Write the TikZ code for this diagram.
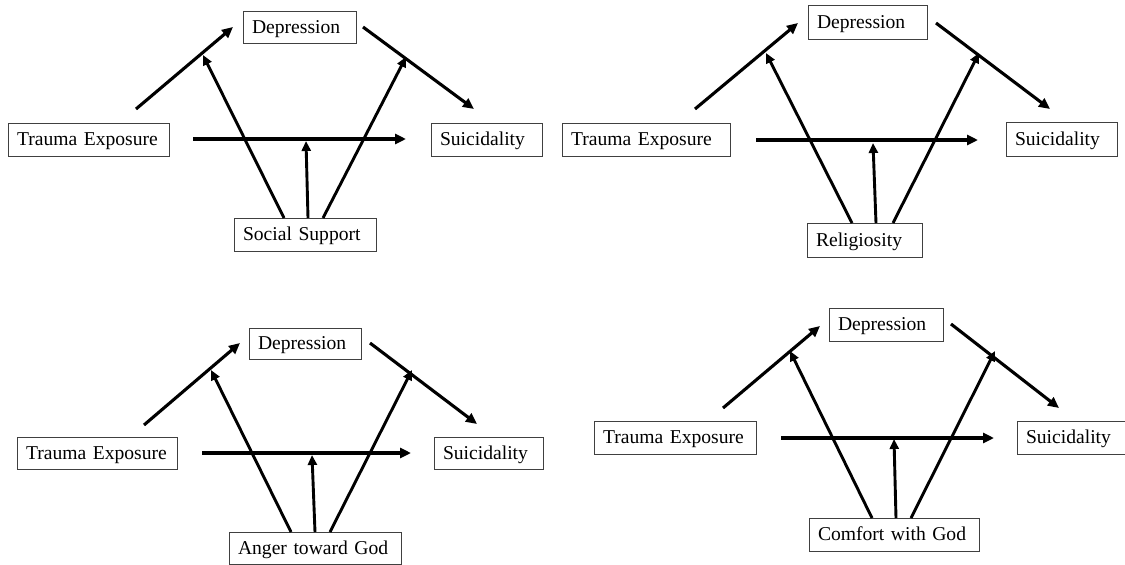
\documentclass[tikz,border=0pt]{standalone}
\usepackage{fontspec}
\setmainfont{Liberation Serif}
\usetikzlibrary{arrows.meta}
\begin{document}
\begin{tikzpicture}[x=1pt,y=-1pt,
  varbox/.style={draw=black!75, line width=0.9pt, rectangle, inner xsep=9pt, inner ysep=6.5pt,
    text height=16pt, text depth=4pt,
    align=left, anchor=center, font=\fontsize{19.6}{22}\selectfont},
  patharr/.style={line width=3.1pt, -{Triangle[length=11pt,width=10pt]}},
  modarr/.style={line width=2.9pt, -{Triangle[length=10pt,width=9pt]}}]
\useasboundingbox (0,0) rectangle (1125,565);
\fill[white] (0,0) rectangle (1125,565);

% ---------- Panel 1: Social Support ----------
\node[varbox, text width=95pt, inner ysep=6pt] (d1) at (299.5,27) {\mbox{Depression}};
\node[varbox, text width=143pt] (t1) at (88.5,139.5) {\mbox{Trauma Exposure}};
\node[varbox, text width=93pt] (s1) at (486.5,139.5) {\mbox{Suicidality}};
\node[varbox, text width=124pt] (m1) at (305,234.5) {\mbox{Social Support}};
\coordinate (a1s) at (136,109); \coordinate (a1e) at (233,27);
\coordinate (b1s) at (363,27);  \coordinate (b1e) at (474,109);
\coordinate (c1s) at (193,139); \coordinate (c1e) at (406,139);
\coordinate (m1l) at (284,218); \coordinate (m1lt) at (203,55);
\coordinate (m1c) at (308,218); \coordinate (m1ct) at (306,141);
\coordinate (m1r) at (323,218); \coordinate (m1rt) at (406,57);
\draw[patharr] (a1s) -- (a1e);
\draw[patharr] (b1s) -- (b1e);
\draw[patharr] (c1s) -- (c1e);
\draw[modarr] (m1l) -- (m1lt);
\draw[modarr] (m1c) -- (m1ct);
\draw[modarr] (m1r) -- (m1rt);

% ---------- Panel 2: Religiosity ----------
\node[varbox, text width=101pt, inner ysep=7pt] (d2) at (867.5,22) {\mbox{Depression}};
\node[varbox, text width=150pt] (t2) at (646,139.5) {\mbox{Trauma Exposure}};
\node[varbox, text width=93pt, inner ysep=7pt] (s2) at (1061.5,139) {\mbox{Suicidality}};
\node[varbox, text width=97pt, inner ysep=7pt] (m2) at (864.5,240) {\mbox{Religiosity}};
\coordinate (a2s) at (695,109); \coordinate (a2e) at (798,23);
\coordinate (b2s) at (936,23);  \coordinate (b2e) at (1050,109);
\coordinate (c2s) at (756,140); \coordinate (c2e) at (978,140);
\coordinate (m2l) at (852,223); \coordinate (m2lt) at (766,53);
\coordinate (m2c) at (876,223); \coordinate (m2ct) at (873,143);
\coordinate (m2r) at (893,223); \coordinate (m2rt) at (979,53);
\draw[patharr] (a2s) -- (a2e);
\draw[patharr] (b2s) -- (b2e);
\draw[patharr] (c2s) -- (c2e);
\draw[modarr] (m2l) -- (m2lt);
\draw[modarr] (m2c) -- (m2ct);
\draw[modarr] (m2r) -- (m2rt);

% ---------- Panel 3: Anger toward God ----------
\node[varbox, text width=94pt, inner ysep=5.5pt] (d3) at (305,343.5) {\mbox{Depression}};
\node[varbox, text width=142pt, inner ysep=6pt] (t3) at (97,453) {\mbox{Trauma Exposure}};
\node[varbox, text width=91pt, inner ysep=6pt] (s3) at (488.5,453) {\mbox{Suicidality}};
\node[varbox, text width=154pt, inner ysep=6pt] (m3) at (315,548) {\mbox{Anger toward God}};
\coordinate (a3s) at (144,425); \coordinate (a3e) at (240,343);
\coordinate (b3s) at (370,343); \coordinate (b3e) at (477,424);
\coordinate (c3s) at (202,453); \coordinate (c3e) at (411,453);
\coordinate (m3l) at (291,532); \coordinate (m3lt) at (211,370);
\coordinate (m3c) at (315,532); \coordinate (m3ct) at (312,455);
\coordinate (m3r) at (330,532); \coordinate (m3rt) at (412,370);
\draw[patharr] (a3s) -- (a3e);
\draw[patharr] (b3s) -- (b3e);
\draw[patharr] (c3s) -- (c3e);
\draw[modarr] (m3l) -- (m3lt);
\draw[modarr] (m3c) -- (m3ct);
\draw[modarr] (m3r) -- (m3rt);

% ---------- Panel 4: Comfort with God ----------
\node[varbox, text width=96pt] (d4) at (886,324.5) {\mbox{Depression}};
\node[varbox, text width=144pt] (t4) at (675,437.5) {\mbox{Trauma Exposure}};
\node[varbox, text width=93pt] (s4) at (1072.5,437.5) {\mbox{Suicidality}};
\node[varbox, text width=152pt] (m4) at (894,534.5) {\mbox{Comfort with God}};
\coordinate (a4s) at (723,408); \coordinate (a4e) at (820,326);
\coordinate (b4s) at (951,324); \coordinate (b4e) at (1059,408);
\coordinate (c4s) at (781,438); \coordinate (c4e) at (994,438);
\coordinate (m4l) at (872,518); \coordinate (m4lt) at (790,351);
\coordinate (m4c) at (896,518); \coordinate (m4ct) at (894,439);
\coordinate (m4r) at (911,518); \coordinate (m4rt) at (995,351);
\draw[patharr] (a4s) -- (a4e);
\draw[patharr] (b4s) -- (b4e);
\draw[patharr] (c4s) -- (c4e);
\draw[modarr] (m4l) -- (m4lt);
\draw[modarr] (m4c) -- (m4ct);
\draw[modarr] (m4r) -- (m4rt);
\end{tikzpicture}
\end{document}
